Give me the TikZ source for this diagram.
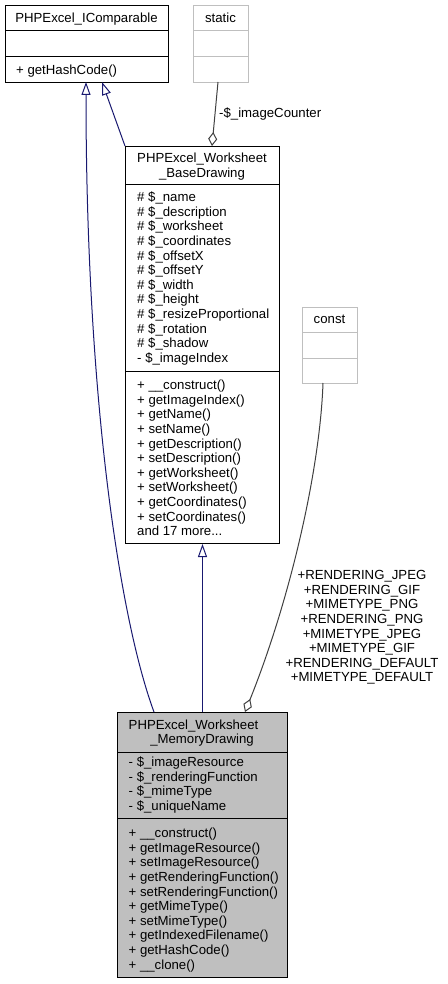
\documentclass[tikz,border=0pt]{standalone}
\usepackage{fontspec}
\setmainfont{Liberation Sans}
\usetikzlibrary{arrows.meta}
\definecolor{edgeblue}{HTML}{191970}
\definecolor{aggr}{HTML}{404040}
\definecolor{lightgray}{HTML}{BFBFBF}
\definecolor{memfill}{HTML}{BFBFBF}
\tikzset{
  box/.style={draw=black, line width=1pt, inner sep=0pt, anchor=north west},
  ghost/.style={draw=lightgray, line width=1pt, inner sep=0pt, anchor=north west},
  txt/.style={inner sep=0pt, text height=9.45pt, text depth=0pt, anchor=west, font=\fontsize{13.2}{14.6}\selectfont},
  ctxt/.style={txt, anchor=center},
  inh/.style={draw=edgeblue, line width=1pt, -{Triangle[open, length=13pt, width=9pt, line width=1pt]}},
  agg/.style={draw=aggr, line width=1pt, -{Diamond[open, length=14pt, width=9pt, line width=1pt]}},
}
\newcommand\mklines[4]{% prefix, x, y0, list
  \foreach \t [count=\i] in {#4} {\node[txt] (#1\i) at (#2, {#3+14.6*(\i-1)}) {\t};}
}
\newcommand\andmoretext{and 17 more...}
\begin{document}
\begin{tikzpicture}[x=1pt, y=-1pt]
\useasboundingbox (0,0) rectangle (447,984);
\fill[white] (0,0) rectangle (447,984);

% PHPExcel_IComparable
\node[box, minimum width=163pt, minimum height=77pt] (icomp) at (5,5) {};
\draw[black, line width=1pt] (5,31) -- (168,31) (5,57) -- (168,57);
\node[ctxt] (icompT) at (86.5,18) {PHPExcel\_IComparable};
\node[txt] (icompM1) at (16,70) {+ getHashCode()};

% static
\node[ghost, minimum width=55pt, minimum height=77pt] (static) at (193,5) {};
\draw[lightgray, line width=1pt] (193,31) -- (248,31) (193,57) -- (248,57);
\node[ctxt] (staticT) at (220.5,18) {static};

% BaseDrawing
\node[box, minimum width=154pt, minimum height=397pt] (base) at (125,146) {};
\draw[black, line width=1pt] (125,185) -- (279,185) (125,371) -- (279,371);
\node[txt] (baseT1) at (137,158) {PHPExcel\_Worksheet};
\node[ctxt] (baseT2) at (202,173) {\_BaseDrawing};
\mklines{baseA}{137}{197}{\#~\$\_name,\#~\$\_description,\#~\$\_worksheet,\#~\$\_coordinates,\#~\$\_offsetX,\#~\$\_offsetY,\#~\$\_width,\#~\$\_height,\#~\$\_resizeProportional,\#~\$\_rotation,\#~\$\_shadow,-~\$\_imageIndex}
\mklines{baseM}{137}{385}{+ \_\_construct(),+ getImageIndex(),+ getName(),+ setName(),+ getDescription(),+ setDescription(),+ getWorksheet(),+ setWorksheet(),+ getCoordinates(),+ setCoordinates(),\andmoretext}

% const
\node[ghost, minimum width=55pt, minimum height=76pt] (const) at (302,307) {};
\draw[lightgray, line width=1pt] (302,332) -- (357,332) (302,358) -- (357,358);
\node[ctxt] (constT) at (329.5,319) {const};

% MemoryDrawing
\node[box, fill=memfill, minimum width=170pt, minimum height=265pt] (mem) at (117,712) {};
\draw[black, line width=1pt] (117,752) -- (287,752) (117,818) -- (287,818);
\node[txt] (memT1) at (128.5,725) {PHPExcel\_Worksheet};
\node[ctxt] (memT2) at (202,739) {\_MemoryDrawing};
\mklines{memA}{128.5}{762}{-~\$\_imageResource,-~\$\_renderingFunction,-~\$\_mimeType,-~\$\_uniqueName}
\mklines{memM}{128.5}{833}{+ \_\_construct(),+ getImageResource(),+ setImageResource(),+ getRenderingFunction(),+ setRenderingFunction(),+ getMimeType(),+ setMimeType(),+ getIndexedFilename(),+ getHashCode(),+ \_\_clone()}

% anchor coordinates on box borders
\coordinate (icompA) at (86,82);
\coordinate (icompB) at (102,82);
\coordinate (memA) at (154,712);
\coordinate (memC) at (245,712);
\coordinate (baseTL) at (125,146);
\coordinate (baseD) at (212,146);
\coordinate (staticS) at (218,82);
\coordinate (constS) at (323,383);

% edges
\draw[inh] (memA) .. controls (120,620) and (86,400) .. (icompA);
\draw[inh] (baseTL) -- (icompB);
\draw[inh] (mem.north) -- (base.south);
\draw[agg] (staticS) -- (baseD);
\draw[agg] (constS) .. controls (320,470) and (290,600) .. (memC);

% edge labels
\node[txt] (lblCounter) at (219,113) {-\$\_imageCounter};
\foreach \t [count=\i] in {+RENDERING\_JPEG,+RENDERING\_GIF,+MIMETYPE\_PNG,+RENDERING\_PNG,+MIMETYPE\_JPEG,+MIMETYPE\_GIF,+RENDERING\_DEFAULT,+MIMETYPE\_DEFAULT}
  {\node[ctxt] (lblConst\i) at (362, {575+14.6*(\i-1)}) {\t};}
\end{tikzpicture}
\end{document}
